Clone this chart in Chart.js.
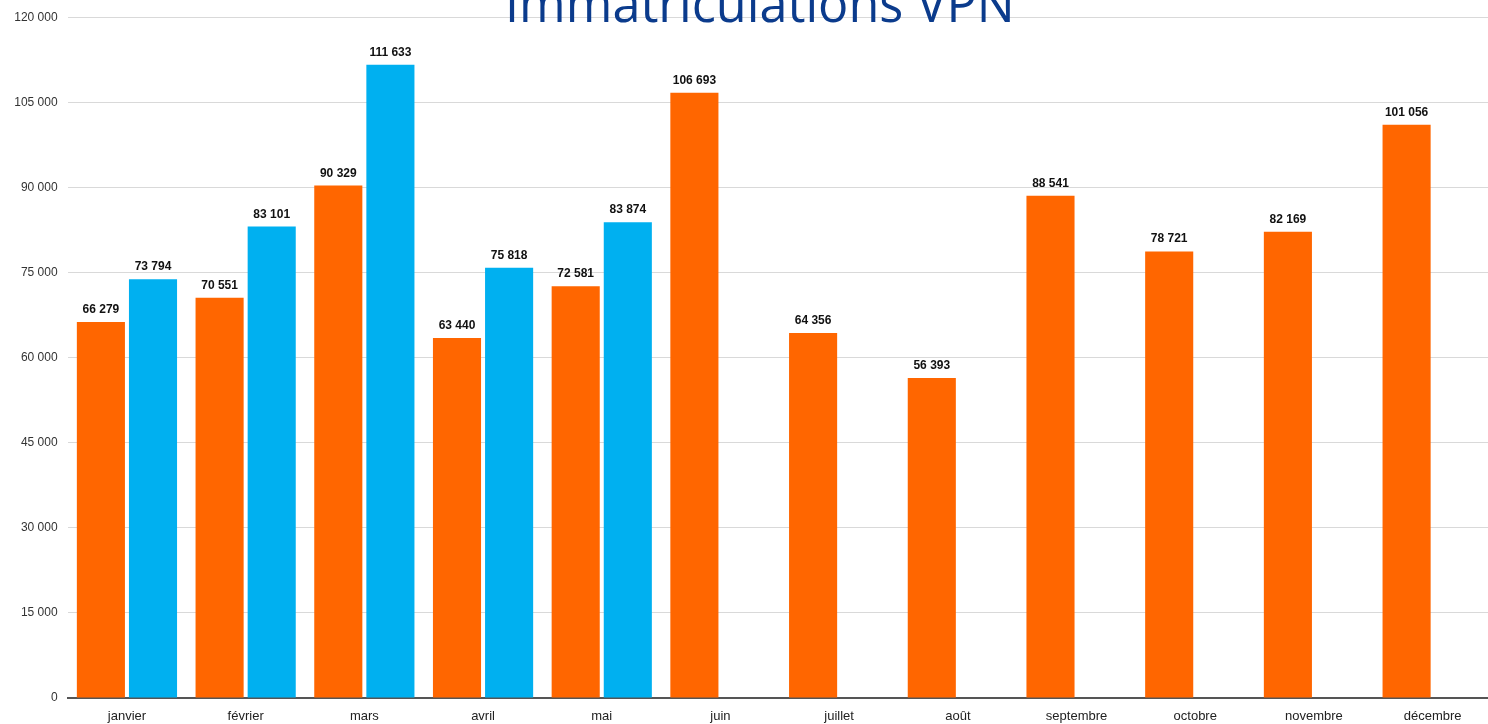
<!DOCTYPE html>
<html>
<head>
<meta charset="utf-8">
<script src="https://cdn.jsdelivr.net/npm/chart.js@4/dist/chart.umd.min.js"></script>
<style>
html,body{margin:0;padding:0;background:#fff;overflow:hidden;}
#wrap{width:1488px;height:724px;position:relative;overflow:hidden;}
#c{position:absolute;left:0;top:0;}
</style>
</head>
<body>
<div id="wrap"><canvas id="c" width="1492" height="724"></canvas></div>
<script>
const titleText = "Immatriculations VPN";
const months = ["janvier","février","mars","avril","mai","juin","juillet","août","septembre","octobre","novembre","décembre"];
const seriesOrange = [66279,70551,90329,63440,72581,106693,64356,56393,88541,78721,82169,101056];
const seriesBlue = [73794,83101,111633,75818,83874,null,null,null,null,null,null,null];
const yTicks = [0,15000,30000,45000,60000,75000,90000,105000,120000];

function fmt(v){ return String(v).replace(/\B(?=(\d{3})+(?!\d))/g, " "); }

const labelPlugin = {
  id: 'valueLabels',
  afterDatasetsDraw(chart){
    const ctx = chart.ctx;
    ctx.save();
    ctx.font = "bold 12px 'Liberation Sans', Arial, sans-serif";
    ctx.fillStyle = "#111";
    ctx.textAlign = "center";
    ctx.textBaseline = "alphabetic";
    chart.data.datasets.forEach((ds, i) => {
      const meta = chart.getDatasetMeta(i);
      meta.data.forEach((bar, j) => {
        const v = ds.data[j];
        if (v === null || v === undefined) return;
        ctx.fillText(fmt(v), bar.x, bar.y - 9);
      });
    });
    ctx.restore();
  },
  afterDraw(chart){
    const ctx = chart.ctx;
    ctx.save();
    ctx.font = "50px 'Open Sans', sans-serif";
    ctx.fillStyle = "#0B3B8C";
    ctx.textAlign = "left";
    ctx.textBaseline = "alphabetic";
    const w = ctx.measureText(titleText).width;
    const scale = 510 / w;
    ctx.font = (50*scale).toFixed(1) + "px 'Open Sans', sans-serif";
    ctx.fillText(titleText, 505, 22);
    ctx.restore();
  }
};

new Chart(document.getElementById('c'), {
  type: 'bar',
  data: {
    labels: months,
    datasets: [
      { label: "orange", data: seriesOrange, backgroundColor: "#FF6600", borderWidth: 0,
        barPercentage: 0.923, categoryPercentage: 0.878 },
      { label: "bleu", data: seriesBlue, backgroundColor: "#00B0F0", borderWidth: 0,
        barPercentage: 0.923, categoryPercentage: 0.878 }
    ]
  },
  options: {
    responsive: false,
    animation: false,
    events: [],
    layout: { padding: { top: 16, right: 0, left: 0, bottom: 0 } },
    plugins: { legend: { display: false }, title: { display: false }, tooltip: { enabled: false } },
    scales: {
      x: {
        grid: { display: false, drawTicks: false },
        border: { display: true, color: "#555", width: 2 },
        ticks: { color: "#222", font: { family: "'Liberation Sans', Arial, sans-serif", size: 13 }, padding: 11, maxRotation: 0 },
        afterFit(s){ s.height = 26; }
      },
      y: {
        min: 0, max: 120000,
        afterBuildTicks(s){ s.ticks = yTicks.map(v => ({ value: v })); },
        grid: { color: "#D9D9D9", lineWidth: 1, drawTicks: false },
        border: { display: false },
        ticks: { color: "#333", font: { family: "'Liberation Sans', Arial, sans-serif", size: 12 }, padding: 10,
          callback: v => fmt(v) },
        afterFit(s){ s.width = 67.6; }
      }
    }
  },
  plugins: [labelPlugin]
});
</script>
</body>
</html>
